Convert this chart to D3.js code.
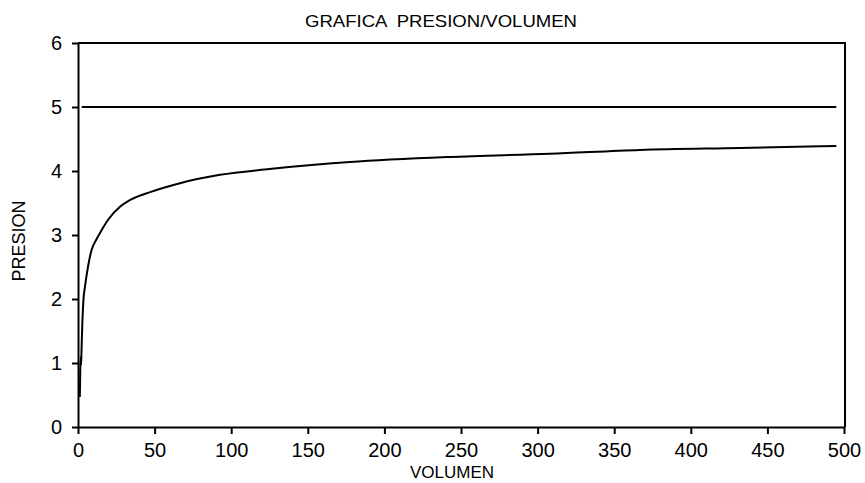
<!DOCTYPE html>
<html>
<head>
<meta charset="utf-8">
<script src="https://d3js.org/d3.v7.min.js"></script>
<style>
  body { margin: 0; background: #fff; }
  text { font-family: "Liberation Sans", Arial, sans-serif; fill: #000; }
</style>
</head>
<body>
<script>
// curve
var volumen = [1.2, 1.5, 1.8, 2.0, 2.3, 2.8, 3.6, 4.6, 6.5, 8.9, 12, 15.5, 20, 27.4, 35, 47, 66.6, 92.7, 125, 177.5, 242.8, 308, 366.8, 432, 495]
var presion = [0.47, 0.9, 1.1, 0.97, 1.2, 1.6, 2.0, 2.2, 2.5, 2.77, 2.93, 3.08, 3.25, 3.44, 3.56, 3.67, 3.81, 3.94, 4.03, 4.14, 4.22, 4.27, 4.33, 4.36, 4.39]
// flat line at 5
var limiteV = [2.4, 495]
var limiteP = [5, 5]

var xTicks = [0, 50, 100, 150, 200, 250, 300, 350, 400, 450, 500]
var yTicks = [0, 1, 2, 3, 4, 5, 6]

var screen = {width: 865, height: 483}
var margin = {top: 43, right: 21, bottom: 56, left: 78}

var svg = d3.select('body').append('svg')
    .attr('width', screen.width)
    .attr('height', screen.height)

var xScale = d3.scaleLinear()
    .domain([0, 500])
    .range([margin.left, screen.width - margin.right])

var yScale = d3.scaleLinear()
    .domain([0, 6])
    .range([screen.height - margin.bottom, margin.top])

// x axis
var xAxis = d3.axisBottom(xScale)
    .tickValues(xTicks)
    .tickFormat(d3.format('d'))
    .tickSize(7)
    .tickPadding(9)
    .tickSizeOuter(0)
var gx = svg.append('g')
    .attr('transform', 'translate(0,' + yScale(0) + ')')
    .call(xAxis)
gx.select('.domain').attr('stroke', '#000').attr('stroke-width', 2)
gx.selectAll('line').attr('stroke', '#000').attr('stroke-width', 2)
gx.selectAll('text').style('font-size', '20px')

// y axis
var yAxis = d3.axisLeft(yScale)
    .tickValues(yTicks)
    .tickFormat(d3.format('d'))
    .tickSize(6)
    .tickPadding(10)
    .tickSizeOuter(0)
var gy = svg.append('g')
    .attr('transform', 'translate(' + xScale(0) + ',0)')
    .call(yAxis)
gy.select('.domain').attr('stroke', '#000').attr('stroke-width', 2)
gy.selectAll('line').attr('stroke', '#000').attr('stroke-width', 2)
gy.selectAll('text').style('font-size', '20px')

// top and right border
svg.append('path')
    .attr('d', 'M' + xScale(0) + ',' + yScale(6) + 'H' + (xScale(500) + 1) + 'V' + yScale(0))
    .attr('fill', 'none')
    .attr('stroke', '#000')
    .attr('stroke-width', 2)

var line = d3.line()
    .x(function(d){ return xScale(d[0]) })
    .y(function(d){ return yScale(d[1]) })
    .curve(d3.curveMonotoneX)

svg.append('path')
    .datum(d3.zip(volumen, presion))
    .attr('d', line)
    .attr('fill', 'none')
    .attr('stroke', '#000')
    .attr('stroke-width', 2)

svg.append('path')
    .datum(d3.zip(limiteV, limiteP))
    .attr('d', line)
    .attr('fill', 'none')
    .attr('stroke', '#000')
    .attr('stroke-width', 2)

// titles
svg.append('text')
    .attr('x', 441)
    .attr('y', 27)
    .attr('text-anchor', 'middle')
    .style('font-size', '17px')
    .style('white-space', 'pre')
    .attr('textLength', 272)
    .attr('lengthAdjust', 'spacingAndGlyphs')
    .text('GRAFICA  PRESION/VOLUMEN')

svg.append('text')
    .attr('x', 452)
    .attr('y', 478)
    .attr('text-anchor', 'middle')
    .style('font-size', '17px')
    .text('VOLUMEN')

svg.append('text')
    .attr('transform', 'translate(25,241) rotate(-90)')
    .attr('text-anchor', 'middle')
    .style('font-size', '18px')
    .text('PRESION')
</script>
</body>
</html>
